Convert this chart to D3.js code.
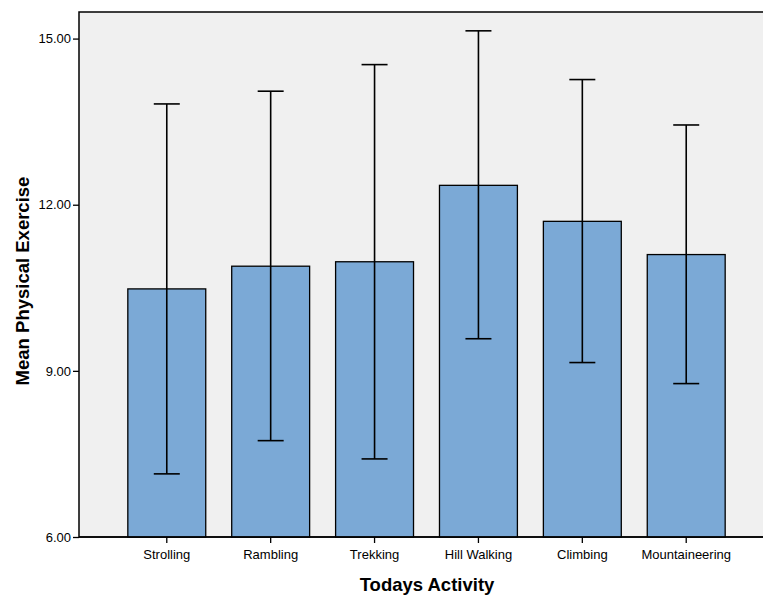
<!DOCTYPE html>
<html><head><meta charset="utf-8">
<script src="https://cdn.jsdelivr.net/npm/d3@7"></script>
<style>body{margin:0;background:#fff;} svg{display:block;font-family:"Liberation Sans",Arial,sans-serif;}</style>
</head><body>
<svg id="chart" width="763" height="595"></svg>
<script>
const categories = ["Strolling","Rambling","Trekking","Hill Walking","Climbing","Mountaineering"];
const means = [10.48, 10.89, 10.97, 12.35, 11.70, 11.10];
const upper = [13.82, 14.05, 14.53, 15.14, 14.26, 13.44];
const lower = [7.14, 7.74, 7.41, 9.58, 9.15, 8.77];
const yTicks = [6, 9, 12, 15];

const svg = d3.select("#chart");
const pLeft = 79, pTop = 12, pBottom = 537, pRight = 774;

const x = d3.scaleBand().domain(categories).range([pLeft, pRight]).paddingInner(0.25).paddingOuter(0.47);
const y = d3.scaleLinear().domain([6, 15.48]).range([pBottom, pTop]);

svg.append("rect").attr("x", pLeft).attr("y", pTop).attr("width", pRight - pLeft).attr("height", pBottom - pTop)
  .attr("fill", "#f0f0f0").attr("stroke", "#000").attr("stroke-width", 1.5);

const data = categories.map((c, i) => ({c, m: means[i], u: upper[i], l: lower[i]}));

svg.append("g").selectAll("rect").data(data).join("rect")
  .attr("x", d => x(d.c)).attr("width", x.bandwidth())
  .attr("y", d => y(d.m)).attr("height", d => y(6) - y(d.m))
  .attr("fill", "#7ba9d6").attr("stroke", "#000").attr("stroke-width", 1.3);

const eb = svg.append("g").attr("stroke", "#000").attr("stroke-width", 1.6);
data.forEach(d => {
  const cx = x(d.c) + x.bandwidth() / 2;
  eb.append("line").attr("x1", cx).attr("x2", cx).attr("y1", y(d.u)).attr("y2", y(d.l));
  eb.append("line").attr("x1", cx - 13).attr("x2", cx + 13).attr("y1", y(d.u)).attr("y2", y(d.u));
  eb.append("line").attr("x1", cx - 13).attr("x2", cx + 13).attr("y1", y(d.l)).attr("y2", y(d.l));
});

const yAxis = svg.append("g").attr("transform", `translate(${pLeft},0)`)
  .call(d3.axisLeft(y).tickValues(yTicks).tickFormat(d3.format(".2f")).tickSize(6).tickPadding(2));
yAxis.select(".domain").remove();
yAxis.selectAll("line").attr("stroke", "#000").attr("stroke-width", 1.3);
yAxis.selectAll("text").attr("font-size", 13).attr("fill", "#000");

const xAxis = svg.append("g").attr("transform", `translate(0,${pBottom})`)
  .call(d3.axisBottom(x).tickSize(6).tickPadding(7));
xAxis.select(".domain").attr("stroke", "#000").attr("stroke-width", 1.5).attr("d", `M${pLeft},0H${pRight}`);
xAxis.selectAll("line").attr("stroke", "#000").attr("stroke-width", 1.3);
xAxis.selectAll("text").attr("font-size", 13).attr("fill", "#000");

svg.append("text").attr("x", 427).attr("y", 591).attr("text-anchor", "middle")
  .attr("font-size", 18.5).attr("font-weight", "bold").text("Todays Activity");
svg.append("text").attr("transform", "translate(29,281) rotate(-90)").attr("text-anchor", "middle")
  .attr("font-size", 18.5).attr("font-weight", "bold").text("Mean Physical Exercise");
</script>
</body></html>
